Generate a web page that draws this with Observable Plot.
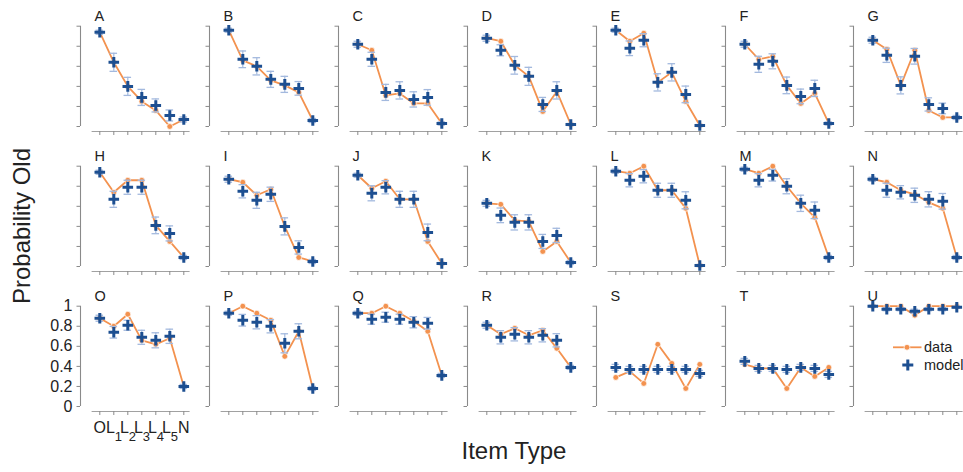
<!DOCTYPE html>
<html><head><meta charset="utf-8">
<script src="https://cdn.jsdelivr.net/npm/d3@7"></script>
<script src="https://cdn.jsdelivr.net/npm/@observablehq/plot@0.6"></script>
<style>
body{margin:0;background:#fff;font-family:"Liberation Sans",Arial,sans-serif;}
#wrap{position:relative;width:963px;height:472px;overflow:hidden;background:#fff;}
.panel{position:absolute;}
#overlay{position:absolute;left:0;top:0;}
</style></head><body><div id="wrap"></div>
<script>
// ---------------- data ----------------
const panelLabels = ["A","B","C","D","E","F","G","H","I","J","K","L","M","N","O","P","Q","R","S","T","U"];
const itemTypes = ["O","L1","L2","L3","L4","L5","N"];
const yTicks = [0, 0.2, 0.4, 0.6, 0.8, 1];

// observed data (orange)
const dataValues = [
  [0.94, 0.64, 0.40, 0.25, 0.16, 0.00, 0.07], // A
  [0.96, 0.66, 0.60, 0.46, 0.41, 0.34, 0.06], // B
  [0.82, 0.76, 0.31, 0.33, 0.23, 0.23, 0.03], // C
  [0.88, 0.85, 0.61, 0.50, 0.15, 0.35, 0.02], // D
  [0.96, 0.85, 0.93, 0.44, 0.54, 0.25, 0.01], // E
  [0.82, 0.67, 0.70, 0.41, 0.23, 0.33, 0.03], // F
  [0.86, 0.77, 0.41, 0.76, 0.16, 0.09, 0.09], // G
  [0.94, 0.74, 0.86, 0.86, 0.41, 0.25, 0.09], // H
  [0.87, 0.84, 0.71, 0.77, 0.40, 0.09, 0.05], // I
  [0.91, 0.78, 0.85, 0.67, 0.67, 0.25, 0.03], // J
  [0.63, 0.62, 0.46, 0.45, 0.15, 0.25, 0.04], // K
  [0.95, 0.93, 1.00, 0.76, 0.76, 0.58, 0.01], // L
  [0.97, 0.93, 1.00, 0.80, 0.63, 0.49, 0.09], // M
  [0.87, 0.84, 0.76, 0.72, 0.64, 0.58, 0.09], // N
  [0.88, 0.80, 0.92, 0.66, 0.62, 0.68, 0.20], // O
  [0.93, 1.00, 0.93, 0.86, 0.50, 0.75, 0.18], // P
  [0.93, 0.93, 1.00, 0.93, 0.85, 0.75, 0.31], // Q
  [0.81, 0.72, 0.78, 0.71, 0.76, 0.58, 0.39], // R
  [0.29, 0.35, 0.23, 0.62, 0.43, 0.18, 0.42], // S
  [0.42, 0.38, 0.38, 0.18, 0.39, 0.30, 0.39], // T
  [1.00, 1.00, 1.00, 0.91, 1.00, 1.00, 1.00]  // U
];

// model predictions (blue plus)
const modelValues = [
  [0.94, 0.64, 0.40, 0.29, 0.21, 0.11, 0.07], // A
  [0.96, 0.67, 0.60, 0.47, 0.42, 0.38, 0.06], // B
  [0.82, 0.67, 0.34, 0.36, 0.27, 0.29, 0.03], // C
  [0.88, 0.76, 0.61, 0.50, 0.22, 0.36, 0.02], // D
  [0.96, 0.78, 0.86, 0.44, 0.54, 0.32, 0.01], // E
  [0.82, 0.62, 0.65, 0.41, 0.30, 0.38, 0.03], // F
  [0.86, 0.71, 0.41, 0.70, 0.22, 0.18, 0.09], // G
  [0.94, 0.67, 0.79, 0.79, 0.41, 0.33, 0.09], // H
  [0.87, 0.75, 0.66, 0.72, 0.40, 0.19, 0.05], // I
  [0.91, 0.73, 0.79, 0.67, 0.67, 0.34, 0.03], // J
  [0.63, 0.51, 0.44, 0.44, 0.25, 0.31, 0.04], // K
  [0.95, 0.86, 0.90, 0.76, 0.76, 0.66, 0.01], // L
  [0.97, 0.86, 0.91, 0.80, 0.63, 0.56, 0.09], // M
  [0.87, 0.76, 0.74, 0.71, 0.67, 0.65, 0.09], // N
  [0.88, 0.74, 0.81, 0.69, 0.66, 0.70, 0.20], // O
  [0.93, 0.86, 0.84, 0.80, 0.63, 0.75, 0.18], // P
  [0.93, 0.87, 0.89, 0.87, 0.84, 0.83, 0.31], // Q
  [0.81, 0.69, 0.72, 0.69, 0.71, 0.66, 0.39], // R
  [0.39, 0.37, 0.37, 0.37, 0.37, 0.37, 0.33], // S
  [0.45, 0.38, 0.38, 0.37, 0.39, 0.38, 0.32], // T
  [1.00, 0.97, 0.97, 0.95, 0.97, 0.97, 0.99]  // U
];

// model error bar half-widths
const modelErrors = [
  [0.02, 0.09, 0.09, 0.08, 0.065, 0.055, 0.025], // A
  [0.02, 0.083, 0.086, 0.08, 0.08, 0.068, 0.02], // B
  [0.03, 0.07, 0.08, 0.086, 0.076, 0.078, 0.015], // C
  [0.03, 0.055, 0.088, 0.09, 0.07, 0.086, 0.01], // D
  [0.02, 0.073, 0.065, 0.086, 0.086, 0.083, 0.01], // E
  [0.03, 0.08, 0.075, 0.083, 0.073, 0.081, 0.015], // F
  [0.03, 0.071, 0.085, 0.078, 0.066, 0.053, 0.02], // G
  [0.02, 0.08, 0.07, 0.07, 0.083, 0.075, 0.02], // H
  [0.03, 0.066, 0.08, 0.071, 0.085, 0.066, 0.02], // I
  [0.02, 0.075, 0.066, 0.08, 0.08, 0.083, 0.01], // J
  [0.03, 0.073, 0.076, 0.076, 0.07, 0.071, 0.02], // K
  [0.02, 0.066, 0.066, 0.07, 0.07, 0.085, 0.01], // L
  [0.02, 0.066, 0.058, 0.075, 0.081, 0.083, 0.02], // M
  [0.02, 0.07, 0.066, 0.071, 0.076, 0.078, 0.02], // N
  [0.03, 0.058, 0.05, 0.07, 0.075, 0.071, 0.02], // O
  [0.02, 0.058, 0.066, 0.066, 0.095, 0.075, 0.02], // P
  [0.02, 0.05, 0.05, 0.05, 0.056, 0.058, 0.02], // Q
  [0.03, 0.066, 0.066, 0.066, 0.066, 0.066, 0.02], // R
  [0.03, 0.03, 0.03, 0.03, 0.03, 0.03, 0.03], // S
  [0.03, 0.03, 0.03, 0.03, 0.03, 0.03, 0.03], // T
  [0.01, 0.015, 0.015, 0.02, 0.015, 0.015, 0.01]  // U
];

// ---------------- style / layout ----------------
const ORANGE = "#f3924f";
const BLUE = "#1d4f91";
const ERRC = "#a3b9de";
const AXISC = "#8a8a8a";
const TEXTC = "#222";
const FONT = "Liberation Sans, Arial, sans-serif";

const NCOL = 7;
const colPitch = 128.9, firstTick0 = 99.3, rowPitch = 140, step = 14, spineOffset = 19.3;
const ML = 45;                 // local x of the y-spine inside each panel svg
const xmin = -spineOffset / step;
const xmax = 7.0;
const PW = Math.ceil(ML + (xmax - xmin) * step + 4);
const PH = 160;
const yTop = 25.7, yBot = 126;

const wrap = document.getElementById("wrap");
const fmt = d3.format("~g");
const idx = d3.range(itemTypes.length);

panelLabels.forEach((label, p) => {
  const row = Math.floor(p / NCOL), col = p % NCOL;
  const dv = dataValues[p], mv = modelValues[p], ev = modelErrors[p];
  const showLabels = (row === 2 && col === 0);

  const marks = [
    // y spine + ticks
    Plot.ruleX([xmin], {y1: 0, y2: 1, stroke: AXISC, strokeWidth: 1.1}),
    Plot.ruleY(yTicks, {y: d => d, x1: xmin - 3.5 / step, x2: xmin, stroke: AXISC, strokeWidth: 1}),
    // x spine + ticks (offset below)
    Plot.ruleY([0], {x1: -0.55, x2: 6.45, dy: 5, stroke: AXISC, strokeWidth: 1, strokeOpacity: 0.8}),
    Plot.ruleX(idx, {x: d => d, y1: 0, y2: -0.04, dy: 5, stroke: AXISC, strokeWidth: 1}),
    // panel letter
    Plot.text([label], {x: xmin, y: 1, text: d => d, dx: 14, dy: -5, textAnchor: "start",
      lineAnchor: "bottom", fontSize: 14.5, fill: TEXTC, fontFamily: FONT}),
    // data line + dots
    Plot.line(idx, {x: i => i, y: i => dv[i], stroke: ORANGE, strokeWidth: 1.8}),
    Plot.dot(idx, {x: i => i, y: i => dv[i], r: 2.9, fill: ORANGE, stroke: "white", strokeWidth: 0.7}),
    // model error bars
    Plot.ruleX(idx, {x: i => i, y1: i => mv[i] - ev[i], y2: i => mv[i] + ev[i], stroke: ERRC, strokeWidth: 1.2}),
    Plot.ruleY(idx, {y: i => mv[i] + ev[i], x1: i => i - 0.27, x2: i => i + 0.27, stroke: ERRC, strokeWidth: 1.3}),
    Plot.ruleY(idx, {y: i => mv[i] - ev[i], x1: i => i - 0.27, x2: i => i + 0.27, stroke: ERRC, strokeWidth: 1.3}),
    // model pluses
    Plot.dot(idx, {x: i => i, y: i => mv[i], symbol: "plus", r: 3.5, stroke: BLUE, strokeWidth: 3})
  ];

  if (showLabels) {
    marks.push(
      Plot.text(yTicks, {x: xmin, y: d => d, text: d => fmt(d), textAnchor: "end", dx: -8,
        fontSize: 16, fill: TEXTC, fontFamily: FONT}),
      // O and N centered
      Plot.text(idx.filter(i => itemTypes[i].length === 1), {x: i => i, y: 0, text: i => itemTypes[i],
        textAnchor: "middle", lineAnchor: "bottom", dy: 26, fontSize: 16, fill: TEXTC, fontFamily: FONT}),
      // L letters
      Plot.text(idx.filter(i => itemTypes[i].length > 1), {x: i => i, y: 0, text: i => itemTypes[i][0],
        textAnchor: "end", lineAnchor: "bottom", dx: 1.2, dy: 26, fontSize: 16, fill: TEXTC, fontFamily: FONT}),
      // subscripts
      Plot.text(idx.filter(i => itemTypes[i].length > 1), {x: i => i, y: 0, text: i => itemTypes[i].slice(1),
        textAnchor: "start", lineAnchor: "bottom", dx: 1.0, dy: 34, fontSize: 13, fill: TEXTC, fontFamily: FONT})
    );
  }

  const chart = Plot.plot({
    width: PW,
    height: PH,
    marginLeft: ML, marginRight: 4, marginTop: 0, marginBottom: 0,
    style: {background: "transparent", overflow: "visible", fontFamily: FONT},
    x: {type: "linear", domain: [xmin, xmax], range: [ML, ML + (xmax - xmin) * step], axis: null},
    y: {type: "linear", domain: [0, 1], range: [yBot, yTop], axis: null},
    marks
  });
  chart.classList.add("panel");
  chart.style.left = (firstTick0 + col * colPitch - spineOffset - ML) + "px";
  chart.style.top = (row * rowPitch) + "px";
  chart.style.maxWidth = "none";
  wrap.appendChild(chart);
});

// ---------------- titles + legend overlay ----------------
const ns = "http://www.w3.org/2000/svg";
const ov = document.createElementNS(ns, "svg");
ov.setAttribute("id", "overlay");
ov.setAttribute("width", 963);
ov.setAttribute("height", 472);
ov.style.pointerEvents = "none";
ov.innerHTML = `
  <text transform="translate(30,226) rotate(-90)" text-anchor="middle" font-size="24" fill="${TEXTC}" font-family="${FONT}">Probability Old</text>
  <text x="514" y="459" text-anchor="middle" font-size="24" fill="${TEXTC}" font-family="${FONT}">Item Type</text>
  <g font-family="${FONT}" font-size="14.5" fill="${TEXTC}">
    <line x1="893" x2="921.5" y1="347.3" y2="347.3" stroke="${ORANGE}" stroke-width="1.8"/>
    <circle cx="907" cy="347.3" r="2.9" fill="${ORANGE}" stroke="white" stroke-width="0.7"/>
    <text x="924" y="347.3" dy="0.35em">data</text>
    <path d="M902.3,365H913.3M907.8,359.5V370.5" stroke="${BLUE}" stroke-width="3" fill="none"/>
    <text x="924" y="365" dy="0.35em">model</text>
  </g>`;
wrap.appendChild(ov);
</script>
</body></html>
